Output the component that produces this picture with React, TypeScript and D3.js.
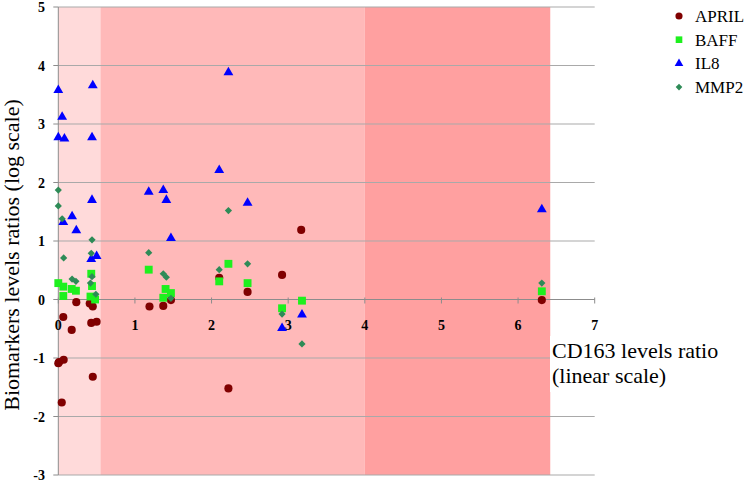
import React from "react";
import * as d3 from "d3";

const W = 749;
const H = 483;

const seriesNames = ["APRIL", "BAFF", "IL8", "MMP2"];
const seriesColors = ["#800000", "#1EF01E", "#0000FF", "#2E8B57"];

const xTicks = [0, 1, 2, 3, 4, 5, 6, 7];
const yTicks = [-3, -2, -1, 0, 1, 2, 3, 4, 5];

// background bands along CD163 ratio
const bandStarts = [0, 0.55, 4];
const bandEnds = [0.55, 4, 6.42];
const bandColors = ["#FFDADA", "#FFB9B9", "#FFA0A0"];

const april: [number, number][] = [
  [0, -1.09], [0.01, -1.07], [0.07, -1.03], [0.045, -1.76], [0.065, -0.3],
  [0.175, -0.52], [0.235, -0.045], [0.41, -0.07], [0.45, -0.12], [0.43, -0.4],
  [0.5, -0.38], [0.45, -1.32], [1.19, -0.12], [1.37, -0.11], [1.47, -0.01],
  [3.17, 1.19], [2.1, 0.37], [2.47, 0.13], [2.92, 0.42], [2.22, -1.52],
  [6.31, -0.01],
];

const baff: [number, number][] = [
  [0, 0.28], [0.065, 0.22], [0.065, 0.06], [0.175, 0.18], [0.23, 0.15],
  [0.43, 0.44], [0.44, 0.23], [0.42, 0.05], [0.48, 0.0], [1.18, 0.51],
  [1.4, 0.18], [1.37, 0.03], [1.47, 0.11], [2.1, 0.31], [2.22, 0.61],
  [2.47, 0.28], [2.92, -0.15], [3.18, -0.02], [6.31, 0.14],
];

const il8: [number, number][] = [
  [0, 3.58], [0.05, 3.12], [0, 2.77], [0.08, 2.75], [0.45, 3.66],
  [0.44, 2.77], [0.44, 1.7], [1.18, 1.84], [1.37, 1.87], [1.41, 1.7],
  [1.47, 1.05], [0.18, 1.42], [0.065, 1.32], [0.235, 1.18], [0.43, 0.69],
  [0.5, 0.74], [2.22, 3.88], [2.1, 2.21], [2.47, 1.65], [3.18, -0.26],
  [2.92, -0.49], [6.31, 1.54],
];

const mmp2: [number, number][] = [
  [0, 1.87], [0, 1.6], [0.05, 1.38], [0.07, 0.71], [0.44, 1.02],
  [0.43, 0.79], [0.18, 0.35], [0.23, 0.31], [0.44, 0.39], [0.42, 0.28],
  [0.49, 0.09], [1.18, 0.8], [1.37, 0.44], [1.41, 0.38], [1.47, 0.02],
  [2.22, 1.52], [2.1, 0.51], [2.47, 0.61], [2.92, -0.25], [3.18, -0.76],
  [6.31, 0.28],
];

const seriesData = [april, baff, il8, mmp2];

const x = d3.scaleLinear().domain([0, 7]).range([58.3, 594.7]);
const y = d3.scaleLinear().domain([-3, 5]).range([475, 7]);

const symbolPaths = [
  d3.symbol().type(d3.symbolCircle).size(52)()!,
  d3.symbol().type(d3.symbolSquare).size(62)()!,
  d3.symbol().type(d3.symbolTriangle).size(42)()!,
  d3.symbol().type(d3.symbolSquare).size(26)()!,
];
const symbolRot = [0, 0, 0, 45];

const legendSymbolPaths = [
  d3.symbol().type(d3.symbolCircle).size(40)()!,
  d3.symbol().type(d3.symbolSquare).size(44)()!,
  d3.symbol().type(d3.symbolTriangle).size(32)()!,
  d3.symbol().type(d3.symbolSquare).size(22)()!,
];

const serif = "'Liberation Serif', 'Times New Roman', serif";

export default function App() {
  const x0 = x(0);
  const x7 = x(7);
  return (
    <svg
      width={W}
      height={H}
      style={{ position: "absolute", left: 0, top: 0, background: "#fff" }}
      fontFamily={serif}
    >
      {/* background bands */}
      {bandStarts.map((s, i) => (
        <rect
          key={"b" + i}
          x={x(s)}
          y={y(5)}
          width={x(bandEnds[i]) - x(s)}
          height={y(-3) - y(5)}
          fill={bandColors[i]}
        />
      ))}
      {/* gridlines */}
      {yTicks
        .filter((t) => t !== 0)
        .map((t) => (
          <line
            key={"g" + t}
            x1={x0}
            x2={x7}
            y1={y(t)}
            y2={y(t)}
            stroke="#A9A9A9"
            strokeWidth={1}
          />
        ))}
      {/* white box behind x-axis title */}
      <rect x={550} y={336} width={60} height={56} fill="#fff" />
      {/* y axis line */}
      <line x1={x0} x2={x0} y1={y(5)} y2={y(-3)} stroke="#8C8C8C" strokeWidth={1} />
      {yTicks.map((t) => (
        <line
          key={"yt" + t}
          x1={x0 - 5}
          x2={x0}
          y1={y(t)}
          y2={y(t)}
          stroke="#8C8C8C"
        />
      ))}
      {/* x axis at zero */}
      <line x1={x0} x2={x7} y1={y(0)} y2={y(0)} stroke="#8C8C8C" strokeWidth={1.2} />
      {xTicks.map((t) => (
        <line
          key={"xt" + t}
          x1={x(t)}
          x2={x(t)}
          y1={y(0) - 2}
          y2={y(0) + 4}
          stroke="#8C8C8C"
        />
      ))}
      {/* x tick labels */}
      {xTicks.map((t) => (
        <text
          key={"xl" + t}
          x={x(t)}
          y={329.5}
          textAnchor="middle"
          fontSize={14}
          fontWeight="bold"
          fill="#000"
        >
          {t}
        </text>
      ))}
      {/* y tick labels */}
      {yTicks.map((t) => (
        <text
          key={"yl" + t}
          x={45}
          y={y(t) + 5}
          textAnchor="end"
          fontSize={14}
          fontWeight="bold"
          fill="#000"
        >
          {t}
        </text>
      ))}
      {/* points */}
      {seriesData.map((data, si) => (
        <g key={"s" + si} fill={seriesColors[si]}>
          {data.map((d, i) => (
            <path
              key={i}
              d={symbolPaths[si]}
              transform={`translate(${x(d[0])},${y(d[1])}) rotate(${symbolRot[si]})`}
            />
          ))}
        </g>
      ))}
      {/* axis titles */}
      <text
        transform={`translate(19,${(y(5) + y(-3)) / 2 + 14}) rotate(-90)`}
        textAnchor="middle"
        fontSize={22}
        fill="#000"
      >
        Biomarkers levels ratios (log scale)
      </text>
      <text x={552} y={358} fontSize={22} fill="#000">
        CD163 levels ratio
      </text>
      <text x={552} y={383} fontSize={22} fill="#000">
        (linear scale)
      </text>
      {/* legend */}
      {seriesNames.map((n, i) => (
        <g key={"l" + i} transform={`translate(0,${16 + i * 23.7})`}>
          <path
            d={legendSymbolPaths[i]}
            fill={seriesColors[i]}
            transform={`translate(679,0) rotate(${symbolRot[i]})`}
          />
          <text x={695} y={6} fontSize={17} fill="#000">
            {n}
          </text>
        </g>
      ))}
    </svg>
  );
}
